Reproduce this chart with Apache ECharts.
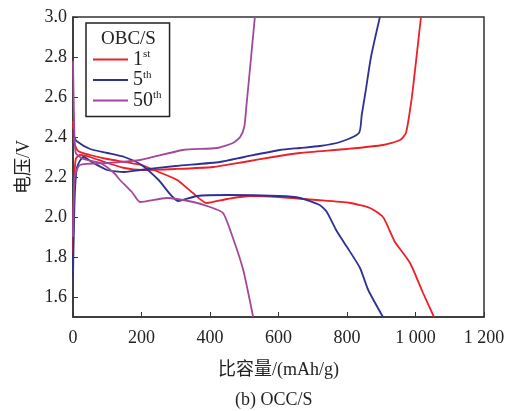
<!DOCTYPE html>
<html lang="zh">
<head>
    <meta charset="UTF-8">
    <title>OCC/S</title>
    <script src="https://cdn.jsdelivr.net/npm/echarts@6/dist/echarts.min.js"></script>
    <style>
        html, body { margin: 0; padding: 0; background: #fff; }
        #main { width: 513px; height: 411px; }
    </style>
</head>
<body>
    <div id="main"></div>
    <script>
        // legend names / superscripts
        var cycleNames = ['1st', '5th', '50th'];
        var cycleNums = ['1', '5', '50'];
        var cycleSups = ['st', 'th', 'th'];
        var cycleColors = ['#ee1f26', '#2d3192', '#a3479b'];

        var xTicks = [0, 200, 400, 600, 800, 1000, 1200];
        var xTickLabels = ['0', '200', '400', '600', '800', '1 000', '1 200'];
        var yTicks = [1.6, 1.8, 2.0, 2.2, 2.4, 2.6, 2.8, 3.0];
        var yTickLabels = ['1.6', '1.8', '2.0', '2.2', '2.4', '2.6', '2.8', '3.0'];

        // [capacity mAh/g, voltage V]
        var dis1 = [[0, 2.48], [4, 2.37], [15, 2.33], [50, 2.31], [100, 2.29], [200, 2.26], [250, 2.225], [304, 2.185],
            [350, 2.12], [390, 2.07], [450, 2.09], [517, 2.105], [600, 2.10], [712, 2.085], [809, 2.07], [867, 2.045],
            [905, 2.0], [925, 1.93], [940, 1.875], [984, 1.77], [1022, 1.62], [1054, 1.5]];
        var chg1 = [[0, 1.82], [3, 2.15], [8, 2.29], [20, 2.31], [50, 2.30], [100, 2.27], [150, 2.245], [200, 2.235],
            [300, 2.24], [409, 2.25], [500, 2.275], [584, 2.30], [663, 2.32], [800, 2.34], [906, 2.36], [955, 2.385],
            [972, 2.42], [984, 2.535], [992, 2.635], [1016, 3.0]];

        var dis5 = [[0, 2.44], [4, 2.40], [10, 2.38], [50, 2.34], [100, 2.32], [150, 2.30], [200, 2.26], [250, 2.185],
            [307, 2.08], [362, 2.105], [450, 2.11], [600, 2.105], [663, 2.095], [720, 2.06], [741, 2.025], [770, 1.93],
            [800, 1.85], [838, 1.745], [862, 1.635], [905, 1.5]];
        var chg5 = [[0, 1.7], [5, 2.1], [12, 2.25], [30, 2.30], [60, 2.27], [100, 2.235], [150, 2.225], [196, 2.235],
            [300, 2.255], [429, 2.275], [500, 2.30], [604, 2.335], [663, 2.345], [721, 2.355], [780, 2.375], [835, 2.42],
            [843, 2.51], [855, 2.635], [870, 2.8], [896, 3.0]];

        var dis50 = [[0, 2.78], [3, 2.5], [8, 2.32], [30, 2.29], [80, 2.27], [120, 2.22], [137, 2.185], [172, 2.125],
            [196, 2.075], [274, 2.095], [351, 2.075], [400, 2.05], [438, 2.02], [467, 1.895], [497, 1.735], [526, 1.5]];
        var chg50 = [[0, 1.9], [5, 2.2], [20, 2.26], [100, 2.27], [196, 2.285], [321, 2.335], [420, 2.345], [467, 2.37],
            [488, 2.40], [500, 2.45], [506, 2.55], [520, 2.8], [531, 3.0]];

        var curves = [[dis1, chg1], [dis5, chg5], [dis50, chg50]];

        var font = '"Liberation Serif", "Noto Sans CJK SC", serif';

        var series = [];
        curves.forEach(function (pair, i) {
            pair.forEach(function (d) {
                series.push({
                    name: cycleNames[i],
                    type: 'line',
                    data: d,
                    showSymbol: false,
                    symbol: 'none',
                    smooth: 0.2,
                    lineStyle: { color: cycleColors[i], width: 1.8 },
                    itemStyle: { color: cycleColors[i] }
                });
            });
        });

        var chart = echarts.init(document.getElementById('main'));
        var option = {
            animation: false,
            backgroundColor: '#fff',
            textStyle: { fontFamily: font },
            title: [
                {
                    text: 'OBC/S',
                    left: 96, top: 25,
                    textStyle: { fontFamily: font, fontSize: 19, fontWeight: 'normal', color: '#222' }
                },
                {
                    text: '(b) OCC/S',
                    left: 230, top: 386,
                    textStyle: { fontFamily: font, fontSize: 18, fontWeight: 'normal', color: '#222' }
                }
            ],
            legend: {
                orient: 'vertical',
                left: 86, top: 23,
                padding: [26, 8, 6, 7],
                borderColor: '#222',
                borderWidth: 1.5,
                itemWidth: 35, itemHeight: 2,
                itemGap: 0,
                icon: 'rect',
                selectedMode: false,
                data: cycleNames,
                formatter: function (name) {
                    var i = cycleNames.indexOf(name);
                    return '{n|' + cycleNums[i] + '}{s|' + cycleSups[i] + '}';
                },
                textStyle: {
                    fontFamily: font,
                    rich: {
                        n: { fontFamily: font, fontSize: 20, color: '#222', lineHeight: 21 },
                        s: { fontFamily: font, fontSize: 11, color: '#222', verticalAlign: 'top', lineHeight: 21 }
                    }
                }
            },
            grid: {
                left: 73, right: 29, top: 17, bottom: 94,
                show: true,
                borderColor: '#333',
                borderWidth: 1.5
            },
            xAxis: {
                type: 'value',
                min: 0, max: 1200, interval: 200,
                name: '比容量/(mAh/g)',
                nameLocation: 'middle',
                nameGap: 44,
                nameTextStyle: { fontFamily: font, fontSize: 18, color: '#222' },
                axisLine: { lineStyle: { color: '#333', width: 1.5 } },
                axisTick: { inside: true, length: 5, lineStyle: { color: '#333' } },
                axisLabel: {
                    margin: 12,
                    fontFamily: font, fontSize: 18, color: '#222',
                    formatter: function (v) {
                        var i = xTicks.indexOf(v);
                        return i >= 0 ? xTickLabels[i] : '';
                    }
                },
                splitLine: { show: false }
            },
            yAxis: {
                type: 'value',
                min: 1.5, max: 3.0,
                name: '电压/V',
                nameLocation: 'middle',
                nameGap: 40,
                nameTextStyle: { fontFamily: font, fontSize: 18, color: '#222' },
                axisLine: { onZero: false, lineStyle: { color: '#333', width: 1.5 } },
                axisTick: { inside: true, length: 5, customValues: yTicks, lineStyle: { color: '#333' } },
                axisLabel: {
                    margin: 6,
                    fontFamily: font, fontSize: 18, color: '#222',
                    customValues: yTicks,
                    formatter: function (v) {
                        var i = yTicks.findIndex(function (t) { return Math.abs(t - v) < 1e-6; });
                        return i >= 0 ? yTickLabels[i] : '';
                    }
                },
                splitLine: { show: false }
            },
            series: series
        };
        chart.setOption(option);
    </script>
</body>
</html>
